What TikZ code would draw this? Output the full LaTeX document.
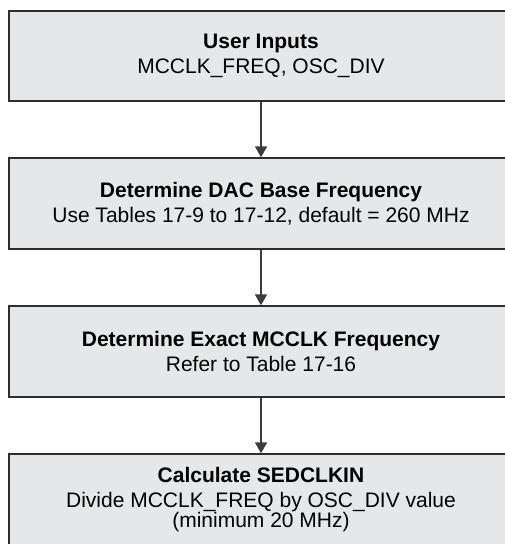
\documentclass[tikz,border=0pt]{standalone}
\usepackage{fontspec}
\setmainfont{Liberation Sans}
\usetikzlibrary{arrows.meta}
\definecolor{boxfill}{HTML}{E6E7E8}
\definecolor{boxline}{HTML}{2E2E2E}
\definecolor{arrowline}{HTML}{3C3C3C}
\tikzset{
  stepbox/.style={draw=boxline, line width=1.3pt, fill=boxfill, rectangle,
    minimum width=504pt, minimum height=90pt, inner sep=0pt, align=center,
    font=\fontsize{21}{25}\selectfont},
  boxtext/.style={align=center, inner sep=0pt, font=\fontsize{21}{25}\selectfont},
  flow/.style={draw=arrowline, line width=1.3pt, -{Triangle[width=12pt,length=11pt]}}
}
\begin{document}
\begin{tikzpicture}[x=1pt,y=-1pt]
\useasboundingbox (0,0) rectangle (504,544);
\node[stepbox] (b1) at (261,56) {\textbf{User Inputs}\\MCCLK\_FREQ, OSC\_DIV};
\node[stepbox, minimum height=91pt] (b2) at (261,203.5) {\textbf{Determine DAC Base Frequency}\\Use Tables 17-9 to 17-12, default = 260 MHz};
\node[stepbox, minimum height=91pt] (b3) at (261,351.5) {\textbf{Determine Exact MCCLK Frequency}\\Refer to Table 17-16};
\node[stepbox, minimum height=110pt] (b4) at (261,509) {};
\node[boxtext, anchor=base] (t4) at (261,527) {\textbf{Calculate SEDCLKIN}\\Divide MCCLK\_FREQ by OSC\_DIV value\\[-5pt](minimum 20 MHz)};
\draw[flow] (b1.south) -- (b2.north);
\draw[flow] (b2.south) -- (b3.north);
\draw[flow] (b3.south) -- (b4.north);
\end{tikzpicture}
\end{document}
